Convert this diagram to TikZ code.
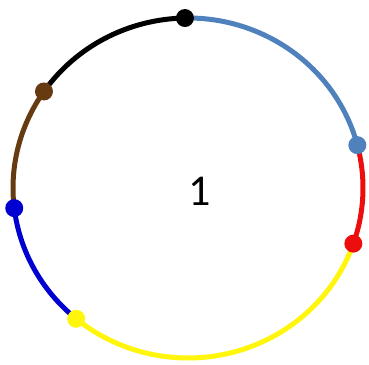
\documentclass[tikz,border=0pt]{standalone}
\usepackage{fontspec}
\setmainfont{Carlito}
\usetikzlibrary{calc}
\definecolor{steelblue}{rgb}{0.31,0.51,0.74}
\definecolor{rojo}{rgb}{0.93,0.05,0.05}
\definecolor{amarillo}{rgb}{1.00,0.96,0.05}
\definecolor{azul}{rgb}{0.00,0.00,0.82}
\definecolor{marron}{rgb}{0.40,0.23,0.07}
\tikzset{
  tramo/.style={
    line width=5pt
  },
  punto/.style={
    circle,
    inner sep=0pt,
    minimum size=18pt
  }
}
\begin{document}
\begin{tikzpicture}[x=1pt,y=1pt]
\useasboundingbox (0,0) rectangle (369,364);
\coordinate (o) at (188,176);
\coordinate (cn) at ($(o)+(91:175pt and 170pt)$);
\coordinate (ca) at ($(o)+(14.6:175pt and 170pt)$);
\coordinate (cr) at ($(o)+(-19.1:175pt and 170pt)$);
\coordinate (cy) at ($(o)+(-129.7:175pt and 170pt)$);
\coordinate (cb) at ($(o)+(-173.2:175pt and 170pt)$);
\coordinate (cm) at ($(o)+(145.4:175pt and 170pt)$);
% tramos del circulo
\draw[tramo,steelblue] (cn) arc[start angle=91,end angle=14.6,x radius=175pt,y radius=170pt];
\draw[tramo,rojo] (ca) arc[start angle=14.6,end angle=-19.1,x radius=175pt,y radius=170pt];
\draw[tramo,amarillo] (cr) arc[start angle=-19.1,end angle=-129.7,x radius=175pt,y radius=170pt];
\draw[tramo,azul] (cy) arc[start angle=-129.7,end angle=-173.2,x radius=175pt,y radius=170pt];
\draw[tramo,marron] (cb) arc[start angle=186.8,end angle=145.4,x radius=175pt,y radius=170pt];
\draw[tramo,black] (cm) arc[start angle=145.4,end angle=91,x radius=175pt,y radius=170pt];
% puntos
\node[punto,fill=black] (n) at (cn) {};
\node[punto,fill=steelblue] (a) at (ca) {};
\node[punto,fill=rojo] (r) at (cr) {};
\node[punto,fill=amarillo] (y) at (cy) {};
\node[punto,fill=azul] (b) at (cb) {};
\node[punto,fill=marron] (m) at (cm) {};
\node[font=\fontsize{44}{50}\selectfont] (uno) at (200,173) {1};
\end{tikzpicture}
\end{document}
